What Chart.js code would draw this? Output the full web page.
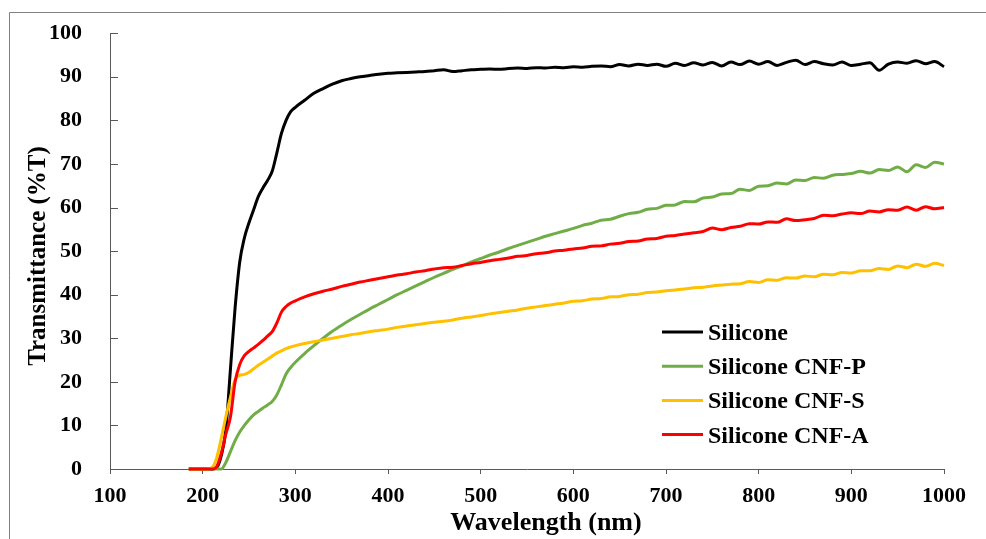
<!DOCTYPE html>
<html>
<head>
<meta charset="utf-8">
<script src="https://cdn.jsdelivr.net/npm/chart.js@4.4.1/dist/chart.umd.min.js"></script>
<style>
  body { margin: 0; background: #fff; }
</style>
</head>
<body>
<canvas id="uvChart" width="986" height="539"></canvas>
<script>
// wavelength (nm)
const wavelengths = [185,190,195,200,205,210,215,220,225,230,235,240,245,250,255,260,265,270,275,280,285,290,295,300,
  310,320,330,340,350,360,370,380,390,400,410,420,430,440,450,460,470,480,490,500,
  510,520,530,540,550,560,570,580,590,600,610,620,630,640,650,660,670,680,690,700,
  710,720,730,740,750,760,770,780,790,800,810,820,830,840,850,860,870,880,890,900,
  910,920,930,940,950,960,970,980,990,1000];

// transmittance (%T)
const silicone = [0,0,0,0,0,0,0.3,3,9,23,37,47.5,53,56.5,59.5,62.5,64.5,66.2,68.3,72.5,77,80,82,83,
  84.6,86.2,87.3,88.3,89.1,89.6,90.0,90.3,90.6,90.8,
  90.9,91.0,91.1,91.2,91.4,91.6,91.2,91.4,91.6,91.7,
  91.8,91.7,91.9,92.0,91.9,92.1,92.0,92.2,92.1,92.3,
  92.2,92.4,92.5,92.3,92.8,92.5,92.9,92.6,92.9,92.4,
  93.1,92.6,93.2,92.7,93.3,92.5,93.4,92.8,93.6,92.9,
  93.5,92.6,93.3,93.8,92.8,93.5,93.0,92.7,93.4,92.6,
  92.9,93.2,91.5,92.9,93.4,93.1,93.7,93.0,93.5,92.3];

const cnfP = [0,0,0,0,0,0,0,0,1.5,4,6.5,8.5,10,11.3,12.4,13.2,14,14.7,15.5,17,19.3,21.8,23.3,24.5,
  26.5,28.3,30,31.6,33,34.3,35.5,36.7,37.8,38.9,
  40,41,42,43,44,44.9,45.8,46.6,47.5,48.3,
  49.1,49.8,50.6,51.3,52,52.7,53.4,54,54.6,55.2,
  55.9,56.4,57.1,57.3,58,58.6,58.9,59.6,59.8,60.5,
  60.6,61.4,61.3,62.2,62.4,63.1,63.2,64.2,63.9,64.9,
  65.0,65.6,65.4,66.3,66.2,66.9,66.7,67.4,67.6,67.8,
  68.3,67.9,68.7,68.5,69.3,68.2,69.8,69.2,70.4,70.0];

const cnfS = [0,0,0,0,0,0.3,2.5,7,12,16.5,20.5,21.5,21.7,22.2,23,23.8,24.5,25.2,25.9,26.6,27.1,27.6,28,28.3,
  28.8,29.2,29.6,30.0,30.4,30.8,31.1,31.5,31.8,32.1,
  32.5,32.8,33.1,33.4,33.7,33.9,34.2,34.6,34.9,35.2,
  35.6,35.9,36.2,36.5,36.9,37.2,37.5,37.8,38.1,38.5,
  38.6,39.0,39.1,39.5,39.6,40.0,40.1,40.5,40.6,40.9,
  41.1,41.3,41.6,41.7,42.0,42.2,42.4,42.5,43.0,42.8,
  43.4,43.3,43.9,43.8,44.3,44.1,44.7,44.6,45.1,45.0,
  45.5,45.5,46.0,45.8,46.6,46.2,47.0,46.5,47.2,46.7];

const cnfA = [0,0,0,0,0,0,0.5,3.5,8,12,20,24,26,27,27.8,28.6,29.5,30.5,31.5,33.5,36,37.3,38.1,38.6,
  39.5,40.2,40.8,41.3,41.9,42.4,42.9,43.3,43.7,44.1,
  44.5,44.8,45.2,45.5,45.9,46.2,46.3,46.7,47.1,47.4,
  47.8,48.1,48.4,48.8,49.0,49.4,49.6,50.0,50.2,50.5,
  50.7,51.1,51.2,51.6,51.8,52.2,52.3,52.8,52.9,53.4,
  53.6,53.9,54.2,54.5,55.3,54.9,55.4,55.7,56.3,56.2,
  56.7,56.6,57.4,57.0,57.2,57.5,58.2,58.1,58.5,58.8,
  58.6,59.2,59.0,59.5,59.4,60.1,59.4,60.2,59.7,60.0];

const seriesNames = ["Silicone", "Silicone CNF-P", "Silicone CNF-S", "Silicone CNF-A"];
const seriesColors = ["#000000", "#70AD47", "#FFC000", "#FF0000"];
const xTitle = "Wavelength (nm)";
const yTitle = "Transmittance (%T)";

const serif = "'Times New Roman', 'Liberation Serif', serif";
const axisColor = "#595959";

function toPoints(values) {
  return wavelengths.map((w, i) => ({ x: w, y: values[i] }));
}

// frame, inward y ticks, axis titles and the legend inside the plot
const decor = {
  id: 'decor',
  afterDraw(chart) {
    const ctx = chart.ctx;
    const area = chart.chartArea;
    const y = chart.scales.y;
    ctx.save();

    ctx.strokeStyle = '#808080';
    ctx.lineWidth = 1;
    ctx.beginPath();
    ctx.moveTo(9.5, chart.height);
    ctx.lineTo(9.5, 12.5);
    ctx.lineTo(chart.width, 12.5);
    ctx.stroke();

    ctx.strokeStyle = axisColor;
    ctx.beginPath();
    y.ticks.forEach(t => {
      const py = Math.round(y.getPixelForValue(t.value)) + 0.5;
      ctx.moveTo(area.left, py);
      ctx.lineTo(area.left + 8, py);
    });
    ctx.stroke();

    ctx.fillStyle = '#000';
    ctx.font = 'bold 26px ' + serif;
    ctx.textAlign = 'center';
    ctx.textBaseline = 'middle';
    ctx.fillText(xTitle, 546, 523);

    ctx.save();
    ctx.translate(39, 256);
    ctx.rotate(-Math.PI / 2);
    ctx.font = 'bold 25px ' + serif;
    ctx.fillText(yTitle, 0, 0);
    ctx.restore();

    ctx.font = 'bold 24px ' + serif;
    ctx.textAlign = 'left';
    ctx.textBaseline = 'alphabetic';
    chart.data.datasets.forEach((ds, i) => {
      const ly = 332 + i * 34.2;
      ctx.strokeStyle = ds.borderColor;
      ctx.lineWidth = 3;
      ctx.beginPath();
      ctx.moveTo(662, ly);
      ctx.lineTo(703, ly);
      ctx.stroke();
      ctx.fillText(ds.label, 708, ly + 8);
    });

    ctx.restore();
  }
};

new Chart(document.getElementById('uvChart'), {
  type: 'line',
  data: {
    datasets: [
      { label: seriesNames[0], data: toPoints(silicone), borderColor: seriesColors[0], order: 4 },
      { label: seriesNames[1], data: toPoints(cnfP), borderColor: seriesColors[1], order: 3 },
      { label: seriesNames[2], data: toPoints(cnfS), borderColor: seriesColors[2], order: 2 },
      { label: seriesNames[3], data: toPoints(cnfA), borderColor: seriesColors[3], order: 1 }
    ]
  },
  options: {
    responsive: false,
    animation: false,
    clip: false,
    layout: { padding: { left: 0, right: 42, top: 33, bottom: 0 } },
    elements: {
      point: { radius: 0 },
      line: { borderWidth: 3, cubicInterpolationMode: 'monotone', fill: false }
    },
    plugins: {
      legend: { display: false },
      tooltip: { enabled: false }
    },
    scales: {
      x: {
        type: 'linear',
        min: 100,
        max: 1000,
        ticks: {
          stepSize: 100,
          color: '#000',
          padding: 9,
          font: { family: serif, size: 22, weight: 'bold' },
          callback: value => String(value)
        },
        grid: { drawOnChartArea: false, drawTicks: true, tickLength: 5, color: axisColor },
        border: { color: axisColor, width: 1 },
        afterFit(scale) { scale.height = 70; }
      },
      y: {
        min: 0,
        max: 100,
        ticks: {
          stepSize: 10,
          color: '#000',
          padding: 20,
          font: { family: serif, size: 22, weight: 'bold' }
        },
        grid: { display: false },
        border: { display: true, color: axisColor, width: 1 },
        afterFit(scale) { scale.width = 110; }
      }
    }
  },
  plugins: [decor]
});
</script>
</body>
</html>
